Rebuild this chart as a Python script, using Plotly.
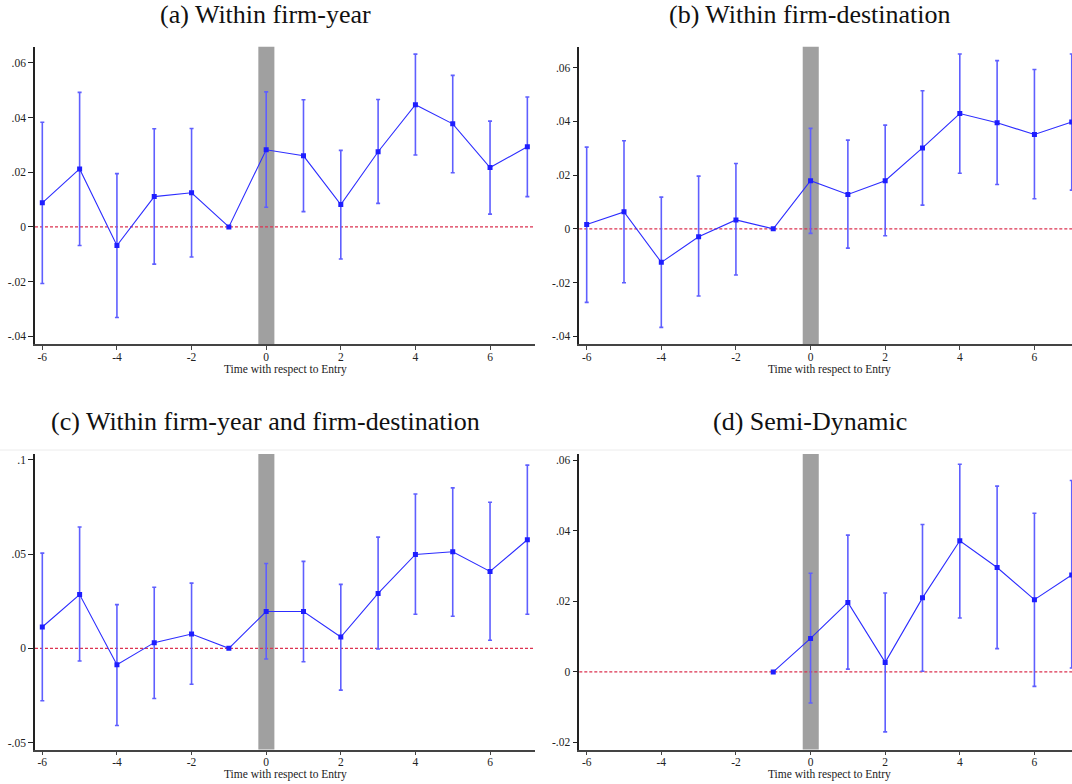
import plotly.graph_objects as go

# Event-time periods relative to entry
periods = [-6, -5, -4, -3, -2, -1, 0, 1, 2, 3, 4, 5, 6, 7]
periods_semi = [-1, 0, 1, 2, 3, 4, 5, 6, 7]

# (a) Within firm-year
a_coef = [0.0088, 0.0212, -0.0068, 0.0111, 0.0125, 0.0, 0.0282, 0.0260, 0.0082, 0.0275, 0.0447, 0.0377, 0.0217, 0.0293]
a_lo = [-0.0207, -0.0068, -0.0331, -0.0136, -0.0110, None, 0.0072, 0.0056, -0.0117, 0.0086, 0.0263, 0.0198, 0.0047, 0.0111]
a_hi = [0.0383, 0.0492, 0.0195, 0.0359, 0.0360, None, 0.0494, 0.0465, 0.0280, 0.0466, 0.0632, 0.0554, 0.0387, 0.0475]

# (b) Within firm-destination
b_coef = [0.0016, 0.0063, -0.0125, -0.0030, 0.0033, 0.0, 0.0179, 0.0128, 0.0179, 0.0301, 0.0429, 0.0395, 0.0351, 0.0398]
b_lo = [-0.0274, -0.0201, -0.0367, -0.0250, -0.0172, None, -0.0017, -0.0072, -0.0026, 0.0088, 0.0207, 0.0165, 0.0112, 0.0144]
b_hi = [0.0304, 0.0328, 0.0118, 0.0196, 0.0243, None, 0.0374, 0.0330, 0.0386, 0.0514, 0.0651, 0.0626, 0.0593, 0.0651]

# (c) Within firm-year and firm-destination
c_coef = [0.0113, 0.0285, -0.0087, 0.0030, 0.0076, 0.0, 0.0195, 0.0195, 0.0060, 0.0291, 0.0498, 0.0512, 0.0408, 0.0576]
c_lo = [-0.0278, -0.0067, -0.0410, -0.0266, -0.0191, None, -0.0057, -0.0071, -0.0222, -0.0004, 0.0181, 0.0170, 0.0043, 0.0181]
c_hi = [0.0505, 0.0644, 0.0232, 0.0324, 0.0346, None, 0.0450, 0.0461, 0.0339, 0.0590, 0.0819, 0.0851, 0.0775, 0.0972]

# (d) Semi-Dynamic
d_coef = [0.0, 0.0095, 0.0197, 0.0027, 0.0210, 0.0372, 0.0296, 0.0205, 0.0275]
d_lo = [None, -0.0088, 0.0008, -0.0170, 0.0002, 0.0153, 0.0066, -0.0041, 0.0011]
d_hi = [None, 0.0280, 0.0388, 0.0224, 0.0418, 0.0589, 0.0527, 0.0450, 0.0543]

titles = ["(a) Within firm-year", "(b) Within firm-destination",
          "(c) Within firm-year and firm-destination", "(d) Semi-Dynamic"]
x_title = "Time with respect to Entry"

x_tickvals = [-6, -4, -2, 0, 2, 4, 6]
x_ticktext = ["-6", "-4", "-2", "0", "2", "4", "6"]
y_tick_small = [-0.04, -0.02, 0, 0.02, 0.04, 0.06]
y_text_small = ["-.04", "-.02", "0", ".02", ".04", ".06"]
y_tick_c = [-0.05, 0, 0.05, 0.1]
y_text_c = ["-.05", "0", ".05", ".1"]
y_tick_d = [-0.02, 0, 0.02, 0.04, 0.06]
y_text_d = ["-.02", "0", ".02", ".04", ".06"]

W, H = 1072, 784
FONT = "Liberation Serif, Times New Roman, serif"
LINE_BLUE = "rgb(45,45,255)"
BAR_BLUE = "rgb(95,95,255)"


def px_x(p):
    return p / W


def px_y(p):
    return 1 - p / H


# panel geometry in pixels: left, right, top, bottom
panels = [
    dict(x=periods, coef=a_coef, lo=a_lo, hi=a_hi, box=(35, 535, 46.7, 344),
         xr=[-6.196, 7.205], yr=[-0.0428, 0.0659], yt=y_tick_small, ytt=y_text_small, tcx=265),
    dict(x=periods, coef=b_coef, lo=b_lo, hi=b_hi, box=(579.3, 1072, 46.7, 344),
         xr=[-6.198, 7.007], yr=[-0.0429, 0.0678], yt=y_tick_small, ytt=y_text_small, tcx=810),
    dict(x=periods, coef=c_coef, lo=c_lo, hi=c_hi, box=(35, 535, 454, 749.5),
         xr=[-6.196, 7.205], yr=[-0.0537, 0.1031], yt=y_tick_c, ytt=y_text_c, tcx=265),
    dict(x=periods_semi, coef=d_coef, lo=d_lo, hi=d_hi, box=(579.3, 1072, 454, 749.5),
         xr=[-6.198, 7.007], yr=[-0.022, 0.0618], yt=y_tick_d, ytt=y_text_d, tcx=810),
]

fig = go.Figure()
layout = dict(
    width=W, height=H,
    margin=dict(l=0, r=0, t=0, b=0),
    paper_bgcolor="white", plot_bgcolor="white",
    showlegend=False,
    font=dict(family=FONT, size=11.5, color="#222"),
)
shapes = []
annotations = []

for i, p in enumerate(panels):
    n = "" if i == 0 else str(i + 1)
    xa, ya = "x" + n, "y" + n
    left, right, top, bottom = p["box"]

    # confidence intervals (the reference period has none)
    ex, ey, eup, edn = [], [], [], []
    for xv, cv, lv, hv in zip(p["x"], p["coef"], p["lo"], p["hi"]):
        if lv is None:
            continue
        ex.append(xv)
        ey.append(cv)
        eup.append(hv - cv)
        edn.append(cv - lv)
    fig.add_trace(go.Scatter(
        x=ex, y=ey, mode="markers", xaxis=xa, yaxis=ya,
        marker=dict(size=1, color="rgba(0,0,0,0)"),
        error_y=dict(type="data", symmetric=False, array=eup, arrayminus=edn,
                     color=BAR_BLUE, thickness=1.6, width=2),
        hoverinfo="skip",
    ))
    # point estimates
    fig.add_trace(go.Scatter(
        x=p["x"], y=p["coef"], mode="lines+markers", xaxis=xa, yaxis=ya,
        line=dict(color=LINE_BLUE, width=1.1),
        marker=dict(symbol="square", size=5, color="rgb(30,30,255)"),
    ))

    layout["xaxis" + n] = dict(
        domain=[px_x(left), px_x(right)], range=p["xr"], anchor=ya,
        showgrid=False, zeroline=False, showline=True, linecolor="#444", linewidth=1.5,
        ticks="outside", ticklen=4, tickwidth=1, tickcolor="#444",
        ticklabelstandoff=-3,
        tickvals=x_tickvals, ticktext=x_ticktext,
        tickfont=dict(family=FONT, size=11.5, color="#222"),
    )
    layout["yaxis" + n] = dict(
        domain=[px_y(bottom), px_y(top)], range=p["yr"], anchor=xa,
        showgrid=False, zeroline=False, showline=True, linecolor="#222", linewidth=1.5,
        ticks="outside", ticklen=5, tickwidth=1, tickcolor="#222",
        tickvals=p["yt"], ticktext=p["ytt"],
        tickfont=dict(family=FONT, size=11.5, color="#222"),
    )

    # shaded entry period
    shapes.append(dict(type="rect", xref=xa, yref=ya + " domain",
                       x0=-0.21, x1=0.22, y0=0, y1=1,
                       fillcolor="rgb(160,160,160)", line=dict(width=0), layer="below"))
    # zero reference line
    shapes.append(dict(type="line", xref=xa + " domain", yref=ya,
                       x0=0, x1=1, y0=0, y1=0,
                       line=dict(color="rgb(220,50,80)", width=1.2, dash="3px,2px"), layer="below"))

    # panel title
    annotations.append(dict(text=titles[i], xref="paper", yref="paper",
                            x=px_x(p["tcx"]), y=px_y(top - 32), xanchor="center", yanchor="middle",
                            showarrow=False, font=dict(family=FONT, size=26, color="#111")))
    # x-axis title
    annotations.append(dict(text=x_title, xref="paper", yref="paper",
                            x=px_x((left + (left + 500)) / 2), y=px_y(bottom + 25),
                            xanchor="center", yanchor="middle",
                            showarrow=False, font=dict(family=FONT, size=11.5, color="#222")))

# faint separator above the lower row
shapes.append(dict(type="line", xref="paper", yref="paper", x0=0, x1=1,
                   y0=px_y(450), y1=px_y(450), line=dict(color="#ececec", width=1)))

layout["shapes"] = shapes
layout["annotations"] = annotations
fig.update_layout(**layout)
fig.write_html("out.html")
